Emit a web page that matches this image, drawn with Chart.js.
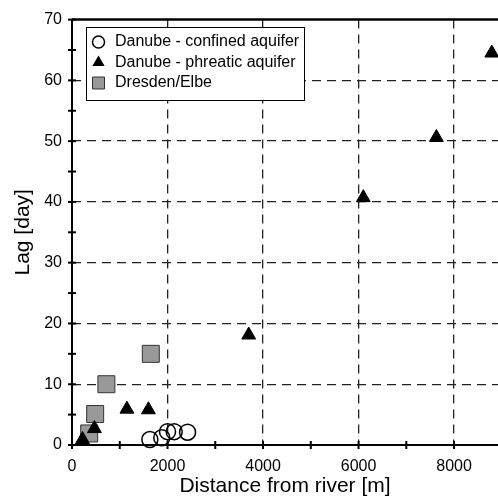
<!DOCTYPE html>
<html>
<head>
<meta charset="utf-8">
<script src="https://cdn.jsdelivr.net/npm/chart.js@4.4.0/dist/chart.umd.min.js"></script>
<style>
  html, body { margin: 0; padding: 0; background: #fff; overflow: hidden; }
</style>
</head>
<body>
<canvas id="lagChart" width="498" height="500"></canvas>
<script>
// values (distance in m, lag in days)
const confinedX = [1630, 1880, 2000, 2140, 2420];
const confinedLag = [0.9, 1.2, 2.2, 2.2, 2.1];
const phreaticX = [220, 470, 1150, 1600, 3700, 6100, 7630, 8790];
const phreaticLag = [0.9, 2.7, 5.9, 5.8, 18.1, 40.7, 50.6, 64.5];
const elbeX = [360, 485, 720, 1650];
const elbeLag = [1.9, 5.1, 10, 15];

const seriesLabels = ['Danube - confined aquifer', 'Danube - phreatic aquifer', 'Dresden/Elbe'];
const xTickValues = [0, 1000, 2000, 3000, 4000, 5000, 6000, 7000, 8000];
const yTickValues = [0, 5, 10, 15, 20, 25, 30, 35, 40, 45, 50, 55, 60, 65, 70];

const FONT = '"Liberation Sans", Arial, Helvetica, sans-serif';
const GRID = '#222';

function toPoints(xs, ys) {
    return xs.map((x, i) => ({ x: x, y: ys[i] }));
}

// axis frame, tick marks crossing the axes, and the boxed legend
const framePlugin = {
    id: 'frame',
    afterDraw(chart) {
        const ctx = chart.ctx;
        const area = chart.chartArea;
        const xs = chart.scales.x;
        const ys = chart.scales.y;

        ctx.save();
        ctx.strokeStyle = '#000';
        ctx.lineWidth = 2;
        ctx.beginPath();
        ctx.moveTo(area.left, area.top);
        ctx.lineTo(area.left, area.bottom);
        ctx.lineTo(area.right, area.bottom);
        ctx.stroke();

        ctx.lineWidth = 2.5;
        ctx.beginPath();
        ctx.moveTo(area.left, area.top);
        ctx.lineTo(area.right, area.top);
        ctx.stroke();

        ctx.lineWidth = 2;
        xTickValues.forEach((v) => {
            const px = xs.getPixelForValue(v);
            ctx.beginPath();
            ctx.moveTo(px, area.bottom - 4);
            ctx.lineTo(px, area.bottom + 4);
            ctx.stroke();
        });
        yTickValues.forEach((v) => {
            const py = ys.getPixelForValue(v);
            ctx.beginPath();
            ctx.moveTo(area.left - 4, py);
            ctx.lineTo(area.left + 4, py);
            ctx.stroke();
        });

        // legend
        const box = { x: 86.5, y: 27.5, w: 218, h: 73 };
        ctx.fillStyle = '#fff';
        ctx.fillRect(box.x, box.y, box.w, box.h);
        ctx.lineWidth = 1;
        ctx.strokeStyle = '#000';
        ctx.strokeRect(box.x, box.y, box.w, box.h);

        ctx.font = '16px ' + FONT;
        ctx.textBaseline = 'middle';
        ctx.textAlign = 'left';
        chart.data.datasets.forEach((ds, i) => {
            const cy = 42 + i * 20.5;
            const cx = 98.5;
            ctx.beginPath();
            if (ds.pointStyle === 'circle') {
                ctx.arc(cx, cy, 6, 0, Math.PI * 2);
                ctx.lineWidth = 1.5;
                ctx.strokeStyle = ds.pointBorderColor;
                ctx.stroke();
            } else if (ds.pointStyle === 'triangle') {
                ctx.moveTo(cx, cy - 7);
                ctx.lineTo(cx + 6.1, cy + 3.5);
                ctx.lineTo(cx - 6.1, cy + 3.5);
                ctx.closePath();
                ctx.fillStyle = ds.pointBackgroundColor;
                ctx.fill();
            } else {
                ctx.rect(cx - 6, cy - 6, 12, 12);
                ctx.fillStyle = ds.pointBackgroundColor;
                ctx.fill();
                ctx.lineWidth = 1;
                ctx.strokeStyle = ds.pointBorderColor;
                ctx.stroke();
            }
            ctx.fillStyle = '#000';
            ctx.fillText(ds.label, 115, cy);
        });
        ctx.restore();
    }
};

new Chart(document.getElementById('lagChart'), {
    type: 'scatter',
    data: {
        datasets: [
            {
                label: seriesLabels[0],
                data: toPoints(confinedX, confinedLag),
                pointStyle: 'circle',
                pointRadius: 8,
                pointBorderWidth: 1.5,
                pointBorderColor: '#000',
                pointBackgroundColor: 'rgba(0,0,0,0)',
                clip: false
            },
            {
                label: seriesLabels[1],
                data: toPoints(phreaticX, phreaticLag),
                pointStyle: 'triangle',
                pointRadius: 8,
                pointBorderWidth: 1,
                pointBorderColor: '#000',
                pointBackgroundColor: '#000',
                clip: false
            },
            {
                label: seriesLabels[2],
                data: toPoints(elbeX, elbeLag),
                pointStyle: 'rect',
                pointRadius: 12,
                pointBorderWidth: 1,
                pointBorderColor: '#333',
                pointBackgroundColor: '#999',
                clip: false
            }
        ]
    },
    options: {
        responsive: false,
        animation: false,
        events: [],
        layout: { padding: { top: 15, right: 0, bottom: 0, left: 0 }, autoPadding: false },
        plugins: {
            legend: { display: false },
            tooltip: { enabled: false }
        },
        scales: {
            x: {
                type: 'linear',
                min: 0,
                max: 8920,
                afterBuildTicks: (scale) => {
                    scale.ticks = xTickValues.map((v) => ({ value: v }));
                },
                afterFit: (scale) => { scale.height = 55; },
                ticks: {
                    autoSkip: false,
                    maxRotation: 0,
                    padding: 12,
                    color: '#000',
                    font: { family: FONT, size: 16 },
                    callback: (v) => (v % 2000 === 0 ? String(v) : '')
                },
                grid: {
                    drawTicks: false,
                    lineWidth: 1.3,
                    color: (c) => (c.tick && c.tick.value % 2000 === 0 && c.tick.value !== 0 ? GRID : 'rgba(0,0,0,0)')
                },
                border: { display: false, dash: [9, 6] },
                title: {
                    display: true,
                    text: 'Distance from river [m]',
                    color: '#000',
                    font: { family: FONT, size: 21 },
                    padding: { top: 0, bottom: 1 }
                }
            },
            y: {
                type: 'linear',
                min: 0,
                max: 70,
                afterBuildTicks: (scale) => {
                    scale.ticks = yTickValues.map((v) => ({ value: v }));
                },
                afterFit: (scale) => { scale.width = 72; },
                ticks: {
                    autoSkip: false,
                    padding: 10,
                    color: '#000',
                    font: { family: FONT, size: 16 },
                    callback: (v) => (v % 10 === 0 ? String(v) : '')
                },
                grid: {
                    drawTicks: false,
                    lineWidth: 1.3,
                    color: (c) => {
                        const v = c.tick ? c.tick.value : 0;
                        return (v % 10 === 0 && v !== 0 && v !== 70) ? GRID : 'rgba(0,0,0,0)';
                    }
                },
                border: { display: false, dash: [9, 6] },
                title: {
                    display: true,
                    text: 'Lag [day]',
                    color: '#000',
                    font: { family: FONT, size: 21 },
                    padding: { top: 11, bottom: 0 }
                }
            }
        }
    },
    plugins: [framePlugin]
});
</script>
</body>
</html>
